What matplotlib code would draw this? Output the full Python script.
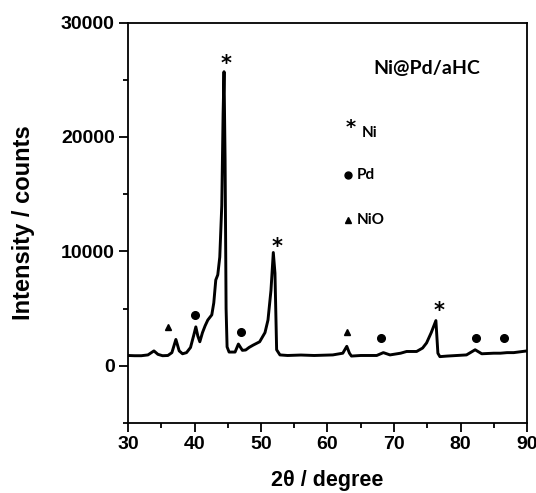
import matplotlib
matplotlib.use("Agg")
import matplotlib.pyplot as plt
from matplotlib.ticker import MultipleLocator

# XRD pattern
two_theta = [30.0, 31.0, 32.0, 33.0, 33.9, 34.5, 35.2, 36.0, 36.6, 37.2, 37.7, 38.2,
             38.8, 39.4, 39.9, 40.2, 40.5, 40.8, 41.2, 41.6, 42.0, 42.6, 42.9, 43.2,
             43.5, 43.8, 44.1, 44.3, 44.44, 44.6, 44.75, 44.9, 45.2, 46.1, 46.6, 47.2,
             47.7, 48.2, 48.8, 49.8, 50.6, 51.05, 51.5, 51.85, 52.1, 52.35, 52.85, 54.0,
             56.0, 58.0, 60.8, 62.3, 62.9, 63.3, 63.6, 65.0, 67.4, 68.4, 69.4, 71.0,
             71.9, 73.4, 74.3, 74.9, 75.6, 76.3, 76.6, 76.9, 78.0, 80.9, 82.2, 83.2,
             85.0, 86.0, 87.0, 88.0, 90.0]
intensity = [900, 880, 880, 950, 1300, 1000, 880, 900, 1150, 2300, 1300, 1050,
             1150, 1600, 2700, 3400, 2600, 2100, 2900, 3500, 4000, 4450, 5500, 7500,
             7950, 9500, 14000, 22000, 25700, 18000, 5000, 1650, 1200, 1200, 1900, 1350,
             1380, 1600, 1800, 2100, 2900, 4000, 6600, 9900, 8100, 1400, 950, 900,
             940, 900, 950, 1100, 1700, 1100, 850, 900, 900, 1150, 950, 1100,
             1250, 1250, 1550, 2000, 2900, 3950, 1100, 800, 850, 950, 1400, 1050,
             1100, 1100, 1150, 1150, 1300]

# phase markers
ni_x = [44.7, 52.35, 76.8]
ni_y = [26400, 10400, 4800]
pd_x = [40.1, 47.0, 68.0, 82.3, 86.5]
pd_y = [4450, 2950, 2460, 2460, 2460]
nio_x = [36.0, 63.0]
nio_y = [3400, 2950]

title_text = "Ni@Pd/aHC"
legend_labels = ["Ni", "Pd", "NiO"]

fig = plt.figure(figsize=(5.36, 4.93), dpi=100)
ax = fig.add_axes([128/536, 1 - 423/493, 399/536, 400.5/493])

ax.plot(two_theta, intensity, color="black", lw=2.1, solid_joinstyle="round")

for x, y in zip(ni_x, ni_y):
    ax.text(x, y, "*", fontsize=15, fontweight="bold", ha="center", va="center",
            family="DejaVu Sans")
ax.plot(pd_x, pd_y, "o", color="black", ms=5.5, ls="none")
ax.plot(nio_x, nio_y, "^", color="black", ms=5, ls="none")

ax.set_xlim(30, 90)
ax.set_ylim(-5000, 30000)
ax.xaxis.set_major_locator(MultipleLocator(10))
ax.xaxis.set_minor_locator(MultipleLocator(5))
ax.yaxis.set_major_locator(MultipleLocator(10000))
ax.yaxis.set_minor_locator(MultipleLocator(5000))

ax.tick_params(which="major", direction="out", length=6.5, width=1.3, labelsize=14, pad=3)
ax.tick_params(which="minor", direction="out", length=3.5, width=1.3)
ax.tick_params(top=False, right=False)
for lab in ax.get_xticklabels() + ax.get_yticklabels():
    lab.set_fontweight("bold")
    lab.set_family("Liberation Sans")
for s in ax.spines.values():
    s.set_linewidth(1.3)

ax.set_xlabel("2θ / degree", fontsize=15.5, fontweight="bold", family="Liberation Sans",
              labelpad=12)
ax.set_ylabel("Intensity / counts", fontsize=17, fontweight="bold", family="Liberation Sans",
              labelpad=19)

# annotations (figure pixel coords converted to axes fraction)
def fx(px):
    return (px - 128) / 399
def fy(py):
    return (423 - py) / 400.5

ax.text(fx(427), fy(68), title_text, transform=ax.transAxes, fontsize=14,
        fontweight="bold", family="Lato", ha="center", va="center")
ax.text(fx(351), fy(127), "*", transform=ax.transAxes, fontsize=14, fontweight="bold",
        ha="center", va="center", family="DejaVu Sans")
ax.text(fx(362), fy(133), legend_labels[0], transform=ax.transAxes, fontsize=11,
        fontweight="bold", family="Lato", ha="left", va="center")
ax.plot([fx(348)], [fy(175)], "o", color="black", ms=5, transform=ax.transAxes)
ax.text(fx(357), fy(175), legend_labels[1], transform=ax.transAxes, fontsize=11,
        fontweight="bold", family="Lato", ha="left", va="center")
ax.plot([fx(348)], [fy(220)], "^", color="black", ms=5, transform=ax.transAxes)
ax.text(fx(357), fy(220), legend_labels[2], transform=ax.transAxes, fontsize=11,
        fontweight="bold", family="Lato", ha="left", va="center")

fig.savefig("out.png", dpi=100)
